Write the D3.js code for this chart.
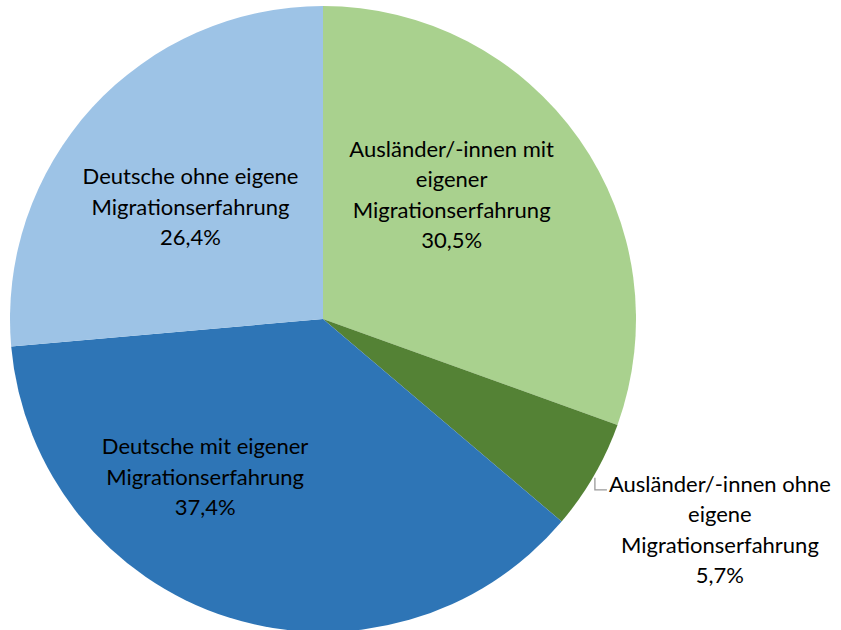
<!DOCTYPE html>
<meta charset="utf-8">
<script src="https://d3js.org/d3.v7.min.js"></script>
<style>
  body { margin: 0; background: #fff; }
  text { font-family: Lato, "Open Sans", sans-serif; fill: #000; }
</style>
<div id="chart"></div>
<script>

// data, clockwise from 12 o'clock
var categories = [
  ["Ausländer/-innen mit", "eigener", "Migrationserfahrung"],
  ["Ausländer/-innen ohne", "eigene", "Migrationserfahrung"],
  ["Deutsche mit eigener", "Migrationserfahrung"],
  ["Deutsche ohne eigene", "Migrationserfahrung"]
];
var values = [30.5, 5.7, 37.4, 26.4];
var valueLabels = ["30,5%", "5,7%", "37,4%", "26,4%"];
var colors = ["#A9D18E", "#548235", "#2E75B6", "#9DC3E6"];

var width = 841, height = 630;
var cx = 323, cy = 319, R = 313;
var lineH = 30.5;

var svg = d3.select("#chart").append("svg")
  .attr("width", width)
  .attr("height", height);

var g = svg.append("g").attr("transform", "translate(" + cx + "," + cy + ")");

var pie = d3.pie().sort(null).value(function(d) { return d; });
var arcs = pie(values);

var arc = d3.arc().innerRadius(0).outerRadius(R);
var labelArc = d3.arc().innerRadius(R * 0.6).outerRadius(R * 0.6);

g.selectAll("path.slice")
  .data(arcs)
  .enter().append("path")
    .attr("class", "slice")
    .attr("d", arc)
    .attr("fill", function(d, i) { return colors[i]; });

// label placement tweaks (Excel's best fit is not on the bisector)
var nudge = [[-25, -16], null, [-61, -21], [6, 15]];

arcs.forEach(function(d, i) {
  var lines = categories[i].concat([valueLabels[i]]);
  var x, y;
  if (nudge[i]) {
    var c = labelArc.centroid(d);
    x = c[0] + nudge[i][0];
    y = c[1] + nudge[i][1];
  } else {
    // outside label with leader line
    var mid = (d.startAngle + d.endAngle) / 2;
    var ex = Math.sin(mid) * R, ey = -Math.cos(mid) * R;
    g.append("path")
      .attr("d", "M" + (ex + 1) + "," + (ey + 2) + "V" + (ey + 14) + "H" + (ex + 13))
      .attr("fill", "none")
      .attr("stroke", "#999")
      .attr("stroke-width", 1.3);
    x = ex + 126;
    y = ey + 54;
  }
  var t = g.append("text")
    .attr("text-anchor", "middle")
    .attr("font-size", 22);
  lines.forEach(function(s, k) {
    t.append("tspan")
      .attr("x", x)
      .attr("y", y + (k - (lines.length - 1) / 2) * lineH)
      .attr("dy", "0.35em")
      .text(s);
  });
});

</script>
